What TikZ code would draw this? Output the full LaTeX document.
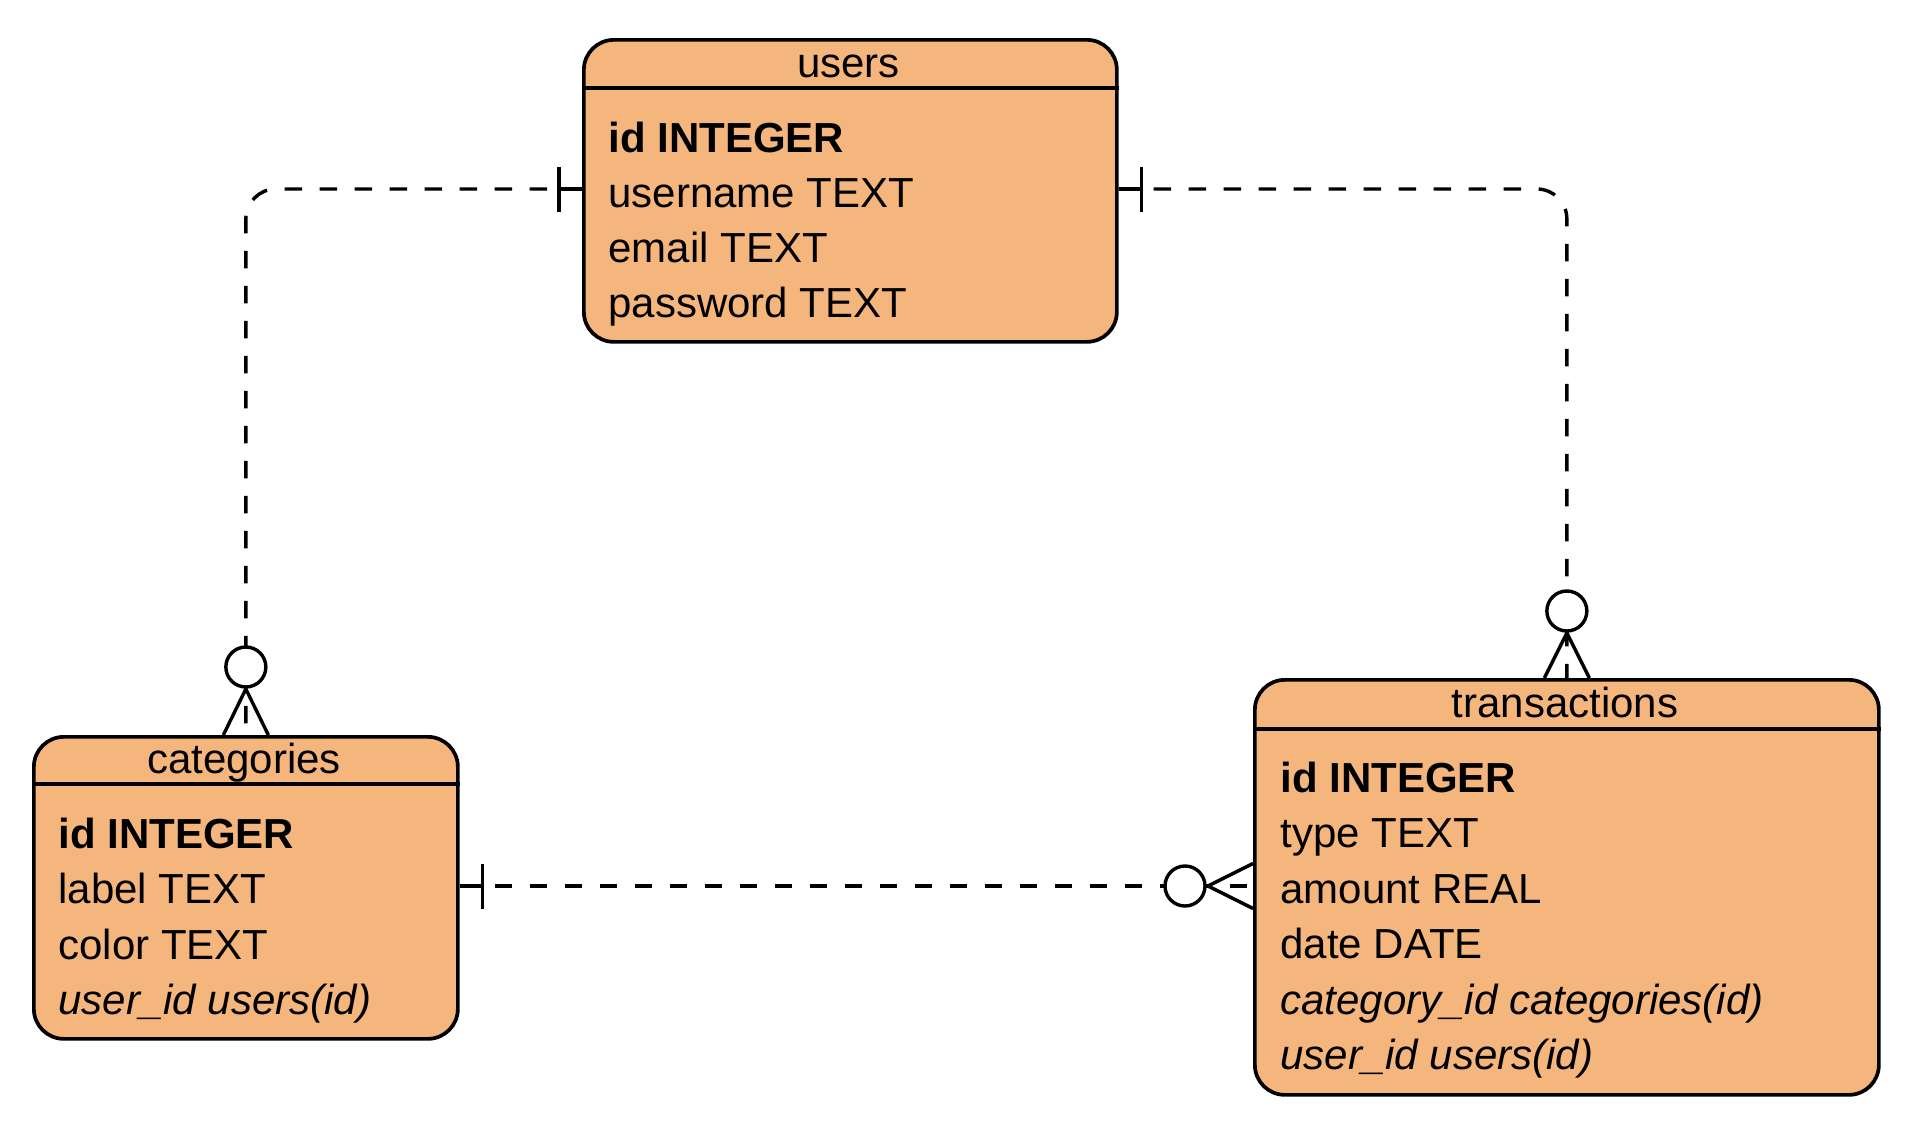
\documentclass[tikz,border=0pt]{standalone}
\usepackage{fontspec}
\setmainfont{Liberation Sans}
\usetikzlibrary{calc}
\definecolor{tablefill}{HTML}{F4B67C}
\begin{document}
\begin{tikzpicture}[x=0.5pt,y=-0.5pt,
  tablebox/.style={draw, fill=tablefill, line width=1.85pt, rounded corners=15pt, rectangle, inner sep=0pt, anchor=north west},
  divider/.style={line width=1.7pt},
  field/.style={anchor=base west, inner sep=0pt, font=\fontsize{21pt}{24pt}\selectfont},
  tabletitle/.style={anchor=base, inner sep=0pt, font=\fontsize{21pt}{24pt}\selectfont},
  rel/.style={line width=1.7pt, dash pattern=on 8.75pt off 8.75pt},
  relmark/.style={line width=1.7pt},
  zerocirc/.style={circle, draw, fill=white, line width=1.7pt, minimum size=20pt, inner sep=0pt},
]
\useasboundingbox (0,0) rectangle (1906,1124);

% tables
\node[tablebox, minimum width=266.5pt, minimum height=151pt] (users) at (582,38) {};
\node[tablebox, minimum width=212pt, minimum height=151pt] (categories) at (32,735) {};
\node[tablebox, minimum width=312pt, minimum height=207.5pt] (transactions) at (1253,678) {};

\draw[divider] ($(users.north west)+(0,50)$) -- ($(users.north east)+(0,50)$);
\draw[divider] ($(categories.north west)+(0,49)$) -- ($(categories.north east)+(0,49)$);
\draw[divider] ($(transactions.north west)+(0,51)$) -- ($(transactions.north east)+(0,51)$);

% users
\node[tabletitle] (ut) at (848.5,77) {users};
\node[field] (u1) at (608,152) {\textbf{id INTEGER}};
\node[field] (u2) at (608,207) {username TEXT};
\node[field] (u3) at (608,262) {email TEXT};
\node[field] (u4) at (608,317) {password TEXT};

% categories
\node[tabletitle] (ct) at (244,773) {categories};
\node[field] (c1) at (58,848) {\textbf{id INTEGER}};
\node[field] (c2) at (58,903.5) {label TEXT};
\node[field] (c3) at (58,959) {color TEXT};
\node[field] (c4) at (58,1014.5) {\textit{user\_id users(id)}};

% transactions
\node[tabletitle] (tt) at (1565,717) {transactions};
\node[field] (t1) at (1280,792) {\textbf{id INTEGER}};
\node[field] (t2) at (1280,847.5) {type TEXT};
\node[field] (t3) at (1280,903) {amount REAL};
\node[field] (t4) at (1280,958.5) {date DATE};
\node[field] (t5) at (1280,1014) {\textit{category\_id categories(id)}};
\node[field] (t6) at (1280,1069.5) {\textit{user\_id users(id)}};

% connector users -> categories
\coordinate (s1) at ($(users.north west)+(0,151)$);
\draw[rel, rounded corners=15pt] (s1) -| (categories.north);
\draw[relmark] (s1) -- ++(-23,0);
\draw[relmark] ($(s1)+(-23,-22.5)$) -- ($(s1)+(-23,22.5)$);
\draw[relmark] ($(categories.north)+(-22.5,0)$) -- ($(categories.north)+(0,-46)$) -- ($(categories.north)+(22.5,0)$);
\node[zerocirc] (z1) at ($(categories.north)+(0,-68)$) {};

% connector users -> transactions
\coordinate (s2) at ($(users.north east)+(0,151)$);
\draw[rel, rounded corners=15pt] (s2) -| (transactions.north);
\draw[relmark] (s2) -- ++(23,0);
\draw[relmark] ($(s2)+(23,-22.5)$) -- ($(s2)+(23,22.5)$);
\draw[relmark] ($(transactions.north)+(-22.5,0)$) -- ($(transactions.north)+(0,-45)$) -- ($(transactions.north)+(22.5,0)$);
\node[zerocirc] (z2) at ($(transactions.north)+(0,-67)$) {};

% connector categories -> transactions
\coordinate (s3) at ($(categories.north east)+(0,151)$);
\coordinate (e3) at (s3 -| transactions.west);
\draw[rel] (s3) -- (e3);
\draw[relmark] (s3) -- ++(23,0);
\draw[relmark] ($(s3)+(23,-22.5)$) -- ($(s3)+(23,22.5)$);
\draw[relmark] ($(e3)+(0,-22.5)$) -- ($(e3)+(-45,0)$) -- ($(e3)+(0,22.5)$);
\node[zerocirc] (z3) at ($(e3)+(-68,0)$) {};
\end{tikzpicture}
\end{document}
